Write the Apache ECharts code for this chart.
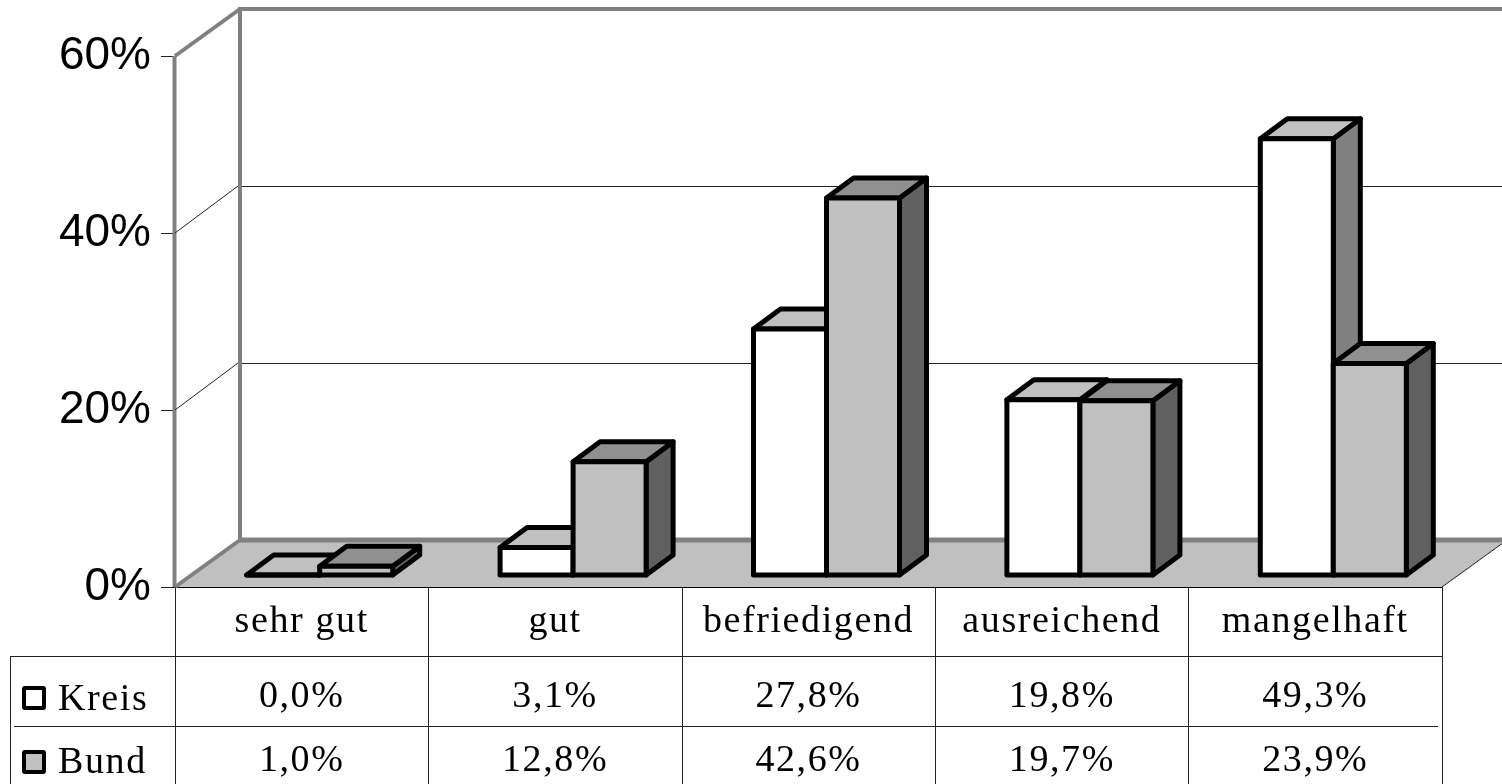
<!DOCTYPE html>
<html><head><meta charset="utf-8">
<style>html,body{margin:0;padding:0;background:#fff}#c{width:1502px;height:784px}</style>
<script src="https://cdn.jsdelivr.net/npm/echarts@6/dist/echarts.min.js"></script>
</head><body><div id="c"></div>
<script>
const categories = ['sehr gut','gut','befriedigend','ausreichend','mangelhaft'];
const kreis = [0.0,3.1,27.8,19.8,49.3];
const bund = [1.0,12.8,42.6,19.7,23.9];
const seriesNames = ['Kreis','Bund'];
const yTicks = [0,20,40,60];

// table text in the reference is widely tracked
const origFill = CanvasRenderingContext2D.prototype.fillText;
CanvasRenderingContext2D.prototype.fillText = function(t,x,y,m){
  if('letterSpacing' in this) this.letterSpacing = /Serif/.test(this.font) ? '1.6px' : '0px';
  return m===undefined ? origFill.call(this,t,x,y) : origFill.call(this,t,x,y,m);
};

const SERIF='"Liberation Serif"', SANS='"Liberation Sans"';
const DX=65, DY=47, BW=73, BDX=27, BDY=20, BASE_UP=12, SHIFT=18;
const fmt=v=>v.toFixed(1).replace('.',',')+'%';

function barItem(side, front, top, rightC){
  return function(params, api){
    const cx=api.coord([api.value(0),0])[0]+SHIFT;
    const y0=api.coord([0,0])[1]-BASE_UP;
    const h=api.coord([0,0])[1]-api.coord([0,api.value(1)])[1];
    const xl=side<0?cx-BW:cx, xr=xl+BW, yt=y0-h;
    const st={stroke:'#000',lineWidth:5,lineJoin:'round'};
    const poly=(pts,fill)=>({type:'polygon',shape:{points:pts},style:Object.assign({fill},st)});
    return {type:'group',children:[
      poly([[xr,y0],[xr+BDX,y0-BDY],[xr+BDX,yt-BDY],[xr,yt]],rightC),
      poly([[xl,yt],[xl+BDX,yt-BDY],[xr+BDX,yt-BDY],[xr,yt]],top),
      poly([[xl,y0],[xr,y0],[xr,yt],[xl,yt]],front)
    ]};
  };
}
function frameItem(params, api){
  const g=params.coordSys, v=api.value(0), y=api.coord([0,v])[1];
  const xL=g.x, xR=g.x+g.width, kids=[];
  const gray={stroke:'#808080',lineWidth:4}, thin={stroke:'#222',lineWidth:1};
  const line=(a,b,c,d,s)=>({type:'line',shape:{x1:a,y1:b,x2:c,y2:d},style:s});
  if(v===0){
    kids.push({type:'polygon',shape:{points:[[xL,y],[xL+DX,y-DY],[xR+DX,y-DY],[xR,y]]},style:{fill:'#c0c0c0'}});
    kids.push(line(xL+DX,y-DY,1502,y-DY,{stroke:'#808080',lineWidth:5}));
    kids.push(line(xL,y,xL+DX,y-DY,gray));
    kids.push(line(xR,y,xR+DX,y-DY,thin));
    const yTop=api.coord([0,60])[1];
    kids.push(line(xL-0.5,yTop,xL-0.5,y,gray));
    kids.push(line(xL+DX,yTop-DY,xL+DX,y-DY,gray));
  } else if(v===60){
    kids.push(line(xL,y,xL+DX,y-DY,gray));
    kids.push(line(xL+DX-2,y-DY,1502,y-DY,gray));
  } else {
    kids.push(line(xL,y,xL+DX-2,y-DY,thin));
    kids.push(line(xL+DX+2,y-DY+0.5,1502,y-DY+0.5,thin));
  }
  return {type:'group',children:kids};
}
function tableItem(params, api){
  const x=api.coord([api.value(0),0])[0];
  return {type:'group',children:[
    {type:'text',style:{x,y:697,text:fmt(kreis[api.value(0)]),fill:'#000',font:'38px '+SERIF,align:'center',verticalAlign:'middle'}},
    {type:'text',style:{x,y:761,text:fmt(bund[api.value(0)]),fill:'#000',font:'38px '+SERIF,align:'center',verticalAlign:'middle'}}
  ]};
}
const hLine=(x1,y,x2,c)=>({type:'line',shape:{x1,y1:y+.5,x2,y2:y+.5},style:{stroke:c||'#222',lineWidth:1},z:20});
const keyBox=(y,f)=>({type:'rect',shape:{x:24,y:y,width:20,height:20,r:1},style:{fill:f,stroke:'#000',lineWidth:4},z:20});
const keyTxt=(y,t)=>({type:'text',style:{x:58,y,text:t,fill:'#000',font:'38px '+SERIF,verticalAlign:'middle'},z:20});

const chart=echarts.init(document.getElementById('c'),null,{renderer:'canvas',width:1502,height:784});
chart.setOption({
  animation:false,backgroundColor:'#fff',
  grid:{left:175,right:60,top:56,bottom:197,containLabel:false},
  xAxis:{type:'category',data:categories,
    axisLine:{lineStyle:{color:'#000',width:2}},
    axisTick:{show:true,length:197,lineStyle:{color:'#222',width:1}},
    axisLabel:{interval:0,margin:16,color:'#000',fontFamily:SERIF,fontSize:38},
    splitLine:{show:false}},
  yAxis:{type:'value',min:0,max:60,interval:20,
    axisLine:{show:true,lineStyle:{color:'#000',width:1}},
    axisTick:{show:true,length:14,lineStyle:{color:'#222',width:1}},
    axisLabel:{margin:24,color:'#000',fontFamily:SANS,fontSize:46,padding:[10,0,0,0],formatter:'{value}%'},
    splitLine:{show:false}},
  graphic:[
    hLine(10,656,1442),hLine(14,726,1438),
    {type:'line',shape:{x1:10.5,y1:656,x2:10.5,y2:784},style:{stroke:'#222',lineWidth:1},z:20},
    {type:'line',shape:{x1:1442.5,y1:587,x2:1442.5,y2:784},style:{stroke:'#222',lineWidth:1},z:20},
    keyBox(688,'#fff'),keyBox(752,'#c0c0c0'),
    keyTxt(700,seriesNames[0]),keyTxt(763,seriesNames[1])
  ],
  series:[
    {type:'custom',name:'frame',coordinateSystem:'cartesian2d',clip:false,z:1,silent:true,
      encode:{x:1,y:0},data:yTicks.map(v=>[v,0]),renderItem:frameItem},
    {type:'custom',name:'Kreis',coordinateSystem:'cartesian2d',clip:false,z:3,silent:true,
      data:kreis.map((v,i)=>[i,v]),renderItem:barItem(-1,'#fff','#c0c0c0','#808080')},
    {type:'custom',name:'Bund',coordinateSystem:'cartesian2d',clip:false,z:4,silent:true,
      data:bund.map((v,i)=>[i,v]),renderItem:barItem(1,'#c0c0c0','#909090','#606060')},
    {type:'custom',name:'table',coordinateSystem:'cartesian2d',clip:false,z:5,silent:true,
      data:categories.map((c,i)=>[i,0]),renderItem:tableItem}
  ]
});
</script></body></html>
